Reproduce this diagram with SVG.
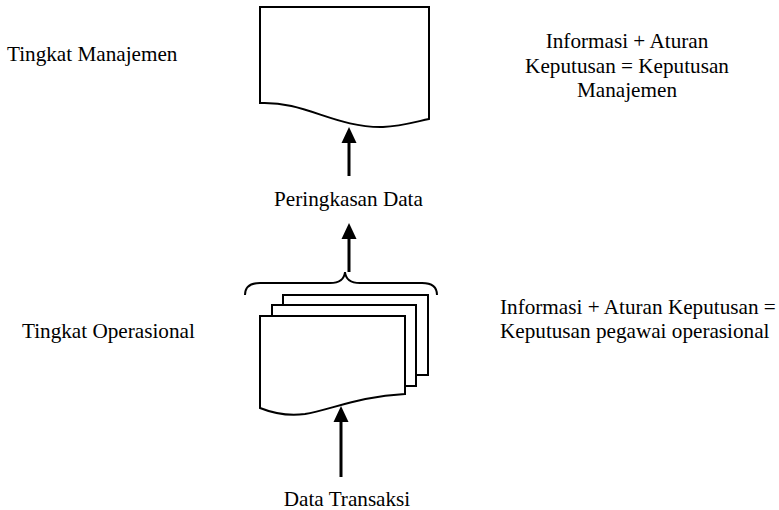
<svg xmlns="http://www.w3.org/2000/svg" width="779" height="510" viewBox="0 0 779 510">
  <style>
    .doc { fill: #ffffff; stroke: #000000; stroke-width: 2; stroke-linejoin: miter; }
    .brace { fill: none; stroke: #000000; stroke-width: 2; }
    .flow { stroke: #000000; stroke-width: 3; fill: none; }
    .lbl { font-family: 'Liberation Serif', 'DejaVu Serif', serif; font-size: 21.2px; fill: #000000; }
    .mid { text-anchor: middle; }
  </style>
  <defs>
    <marker id="head" markerUnits="userSpaceOnUse" markerWidth="16" markerHeight="16" refX="0" refY="7.5" orient="auto" overflow="visible">
      <path d="M0,0 L16,7.5 L0,15 z" fill="#000000"/>
    </marker>
  </defs>

  <rect width="779" height="510" fill="#ffffff"/>

  <!-- management-level report -->
  <g id="report-management">
    <path class="doc" d="M260,7 H429 V119 C415,122 400,126.5 383,127 C335,128 305,101 260,103 Z"/>
  </g>

  <!-- operational documents (stack of three) -->
  <g id="docs-operational">
    <rect class="doc" x="283" y="295" width="145" height="80"/>
    <rect class="doc" x="272" y="305" width="144" height="81"/>
    <path class="doc" d="M260,316 H405 V394 C360,396 330,410 305,414 C290,416 275,414 260,408 Z"/>
    <path class="brace" d="M245,295 Q245,283 260,283 L330,283 Q344,283 345,272 Q346,283 360,283 L422,283 Q437,283 437,295"/>
  </g>

  <!-- flow arrows -->
  <g id="connectors">
    <line class="flow" x1="341" y1="477" x2="341" y2="422" marker-end="url(#head)"/>
    <line class="flow" x1="349" y1="272" x2="349" y2="239" marker-end="url(#head)"/>
    <line class="flow" x1="349" y1="176" x2="349" y2="143" marker-end="url(#head)"/>
  </g>

  <g font-family="Liberation Serif, DejaVu Serif, serif">
    <g id="label-level-management">
      <text class="lbl" x="7" y="61">Tingkat Manajemen</text>
    </g>
    <g id="label-level-operational">
      <text class="lbl" x="22" y="338">Tingkat Operasional</text>
    </g>
    <g id="label-summary">
      <text class="lbl mid" x="348.5" y="205.5">Peringkasan Data</text>
    </g>
    <g id="label-transactions">
      <text class="lbl mid" x="347" y="505.5">Data Transaksi</text>
    </g>
    <g id="note-management">
      <text class="lbl mid" x="627" y="48">Informasi + Aturan</text>
      <text class="lbl mid" x="627" y="73">Keputusan = Keputusan</text>
      <text class="lbl mid" x="627" y="97">Manajemen</text>
    </g>
    <g id="note-operational">
      <text class="lbl" x="500" y="314">Informasi + Aturan Keputusan =</text>
      <text class="lbl" x="500" y="338">Keputusan pegawai operasional</text>
    </g>
  </g>
</svg>
